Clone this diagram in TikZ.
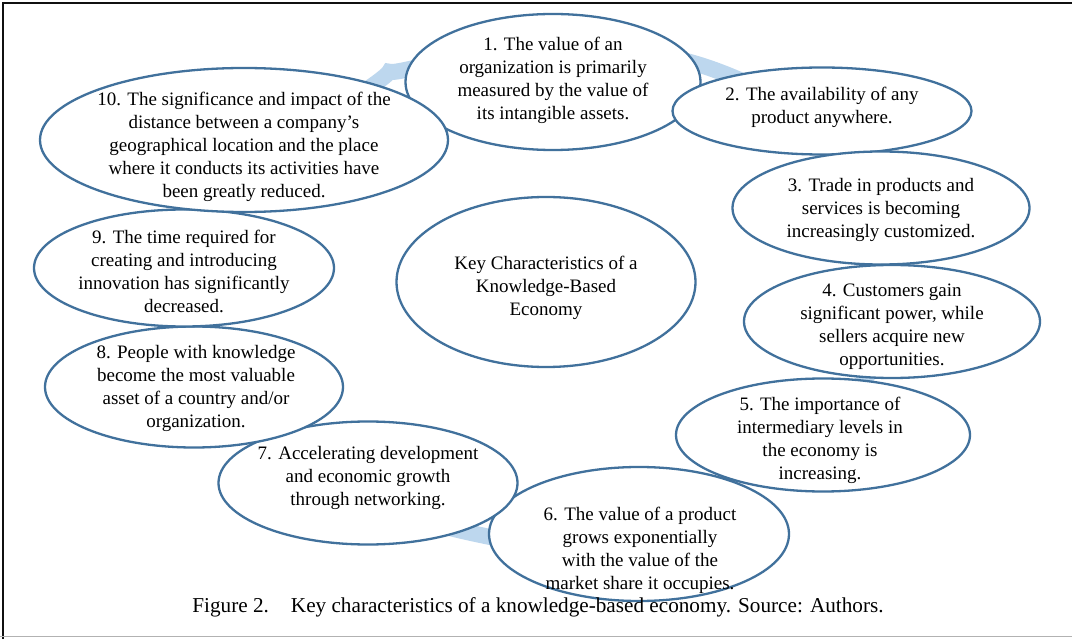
\documentclass[tikz,border=0pt]{standalone}
\usepackage{fontspec}
\setmainfont{Liberation Serif}
\usetikzlibrary{shapes.geometric}
\definecolor{rim}{HTML}{41719C}
\definecolor{ringblue}{HTML}{BDD7EE}
\definecolor{frameline}{HTML}{101010}

\begin{document}
\begin{tikzpicture}[x=1pt, y=-1pt,
  bubble/.style={ellipse, draw=rim, line width=2.3pt, fill=white, inner sep=0pt},
  txt/.style={align=center, font=\fontsize{19}{23}\selectfont, inner sep=0pt},
  ring/.style={draw=ringblue, line width=16pt}]
\useasboundingbox (0,0) rectangle (1072,639);
\fill[white] (0,0) rectangle (1072,639);
% frame
\draw[frameline, line width=2.2pt] (1072,3) -- (3,3) -- (3,639);
\draw[gray!60, line width=1.6pt] (0,636.5) -- (1072,636.5);

% cycle ring behind the bubbles
\draw[ring] plot[smooth cycle, tension=0.6] coordinates {
  (372,86) (405,70) (560,46) (715,70) (850,152) (885,265) (865,379)
  (727,479) (610,552) (490,537) (385,505) (285,436) (190,327) (205,211)};

% hub
\node[bubble, minimum width=299pt, minimum height=170pt] (hub) at (546,282) {};
\node[txt] (hubt) at (546,288) {Key Characteristics of a\\Knowledge-Based\\Economy};

% characteristics, drawn in order
\node[bubble, minimum width=295pt, minimum height=136pt] (n1) at (553,82) {};
\node[txt] (t1) at (553,80) {1. The value of an\\organization is primarily\\measured by the value of\\its intangible assets.};

\node[bubble, minimum width=299pt, minimum height=87pt] (n2) at (822,111) {};
\node[txt] (t2) at (822,107) {2. The availability of any\\product anywhere.};

\node[bubble, minimum width=297pt, minimum height=113pt] (n3) at (881,208) {};
\node[txt] (t3) at (881,210) {3. Trade in products and\\services is becoming\\increasingly customized.};

\node[bubble, minimum width=296pt, minimum height=113pt] (n4) at (892,321.5) {};
\node[txt] (t4) at (892,327) {4. Customers gain\\significant power, while\\sellers acquire new\\opportunities.};

\node[bubble, minimum width=294pt, minimum height=113pt] (n5) at (823,435) {};
\node[txt] (t5) at (820,440) {5. The importance of\\intermediary levels in\\the economy is\\increasing.};

\node[bubble, minimum width=300pt, minimum height=134pt] (n6) at (639,534) {};
\node[txt] (t6) at (640,550) {6. The value of a product\\grows exponentially\\with the value of the\\market share it occupies.};

\node[bubble, minimum width=299pt, minimum height=123pt] (n7) at (368,483) {};
\node[txt] (t7) at (368,478) {7. Accelerating development\\and economic growth\\through networking.};

\node[bubble, minimum width=298pt, minimum height=121pt] (n8) at (194,387) {};
\node[txt] (t8) at (196,388) {8. People with knowledge\\become the most valuable\\asset of a country and/or\\organization.};

\node[bubble, minimum width=300pt, minimum height=117pt] (n9) at (184,268) {};
\node[txt] (t9) at (184,271) {9. The time required for\\creating and introducing\\innovation has significantly\\decreased.};

\node[bubble, minimum width=408pt, minimum height=144pt] (n10) at (244,140) {};
\node[txt] (t10) at (244,147) {10. The significance and impact of the\\distance between a company's\\geographical location and the place\\where it conducts its activities have\\been greatly reduced.};

% caption
\node[font=\fontsize{21.2}{25}\selectfont, inner sep=0pt] (cap) at (538,607) {Figure 2.\hspace{22pt}Key characteristics of a knowledge-based economy. Source: Authors.};
\end{tikzpicture}
\end{document}
